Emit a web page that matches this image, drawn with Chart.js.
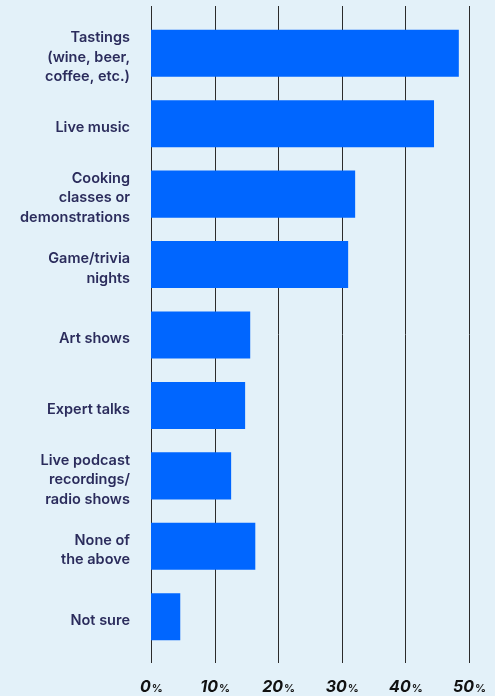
<!DOCTYPE html>
<html>
<head>
<meta charset="utf-8">
<script src="https://cdn.jsdelivr.net/npm/chart.js@4"></script>
<style>
  html, body { margin: 0; padding: 0; background: #e3f1f9; }
  #wrap { width: 495px; height: 696px; position: relative; }
</style>
</head>
<body>
<div id="wrap"><canvas id="c"></canvas></div>
<script>
const categories = [
  ["Tastings", "(wine, beer,", "coffee, etc.)"],
  "Live music",
  ["Cooking", "classes or", "demonstrations"],
  ["Game/trivia", "nights"],
  "Art shows",
  "Expert talks",
  ["Live podcast", "recordings/", "radio shows"],
  ["None of", "the above"],
  "Not sure"
];
const values = [48.4, 44.5, 32.1, 31.0, 15.6, 14.8, 12.6, 16.4, 4.6];
const tickValues = [0, 10, 20, 30, 40, 50];
const tickSuffix = "%";

const gridPlugin = {
  id: 'customGrid',
  beforeDatasetsDraw(chart) {
    const ctx = chart.ctx;
    const xs = chart.scales.x;
    ctx.save();
    ctx.strokeStyle = '#2b2b2b';
    ctx.lineWidth = 1;
    tickValues.forEach(v => {
      const x = Math.round(xs.getPixelForValue(v)) + 0.5;
      ctx.beginPath();
      ctx.moveTo(x, 6);
      ctx.lineTo(x, 663);
      ctx.stroke();
    });
    ctx.restore();
  },
  afterDraw(chart) {
    const ctx = chart.ctx;
    const xs = chart.scales.x;
    ctx.save();
    ctx.fillStyle = '#111111';
    ctx.textBaseline = 'alphabetic';
    tickValues.forEach(v => {
      const x = xs.getPixelForValue(v);
      const num = String(v);
      ctx.font = 'italic 700 16px Inter, "Open Sans", sans-serif';
      const w1 = ctx.measureText(num).width;
      ctx.font = '600 11px Inter, "Open Sans", sans-serif';
      const w2 = ctx.measureText(tickSuffix).width;
      const start = x - (w1 + w2) / 2;
      ctx.font = 'italic 700 16px Inter, "Open Sans", sans-serif';
      ctx.fillText(num, start, 692);
      ctx.font = '600 11px Inter, "Open Sans", sans-serif';
      ctx.fillText(tickSuffix, start + w1 + 1, 692);
    });
    ctx.restore();
  }
};

new Chart(document.getElementById('c'), {
  type: 'bar',
  data: {
    labels: categories,
    datasets: [{
      data: values,
      backgroundColor: '#0066ff',
      borderWidth: 0,
      categoryPercentage: 1,
      barPercentage: 0.668
    }]
  },
  options: {
    indexAxis: 'y',
    responsive: true,
    maintainAspectRatio: false,
    animation: false,
    layout: { padding: { left: 0, right: 26, top: 18, bottom: 0 } },
    plugins: { legend: { display: false }, tooltip: { enabled: false } },
    scales: {
      x: {
        min: 0, max: 50,
        ticks: { display: false, stepSize: 10 },
        grid: { display: false },
        border: { display: false },
        afterFit(s) { s.height = 44; s.paddingLeft = 0; s.paddingRight = 0; }
      },
      y: {
        grid: { display: false, drawTicks: false },
        border: { display: false },
        ticks: {
          color: '#2b2c5c',
          padding: 21,
          labelOffset: 4,
          font: { family: 'Inter, "Open Sans", sans-serif', size: 14.5, weight: 600, lineHeight: 1.35 }
        },
        afterFit(s) { s.width = 151; s.paddingTop = 0; s.paddingBottom = 0; }
      }
    }
  },
  plugins: [gridPlugin]
});
</script>
</body>
</html>
